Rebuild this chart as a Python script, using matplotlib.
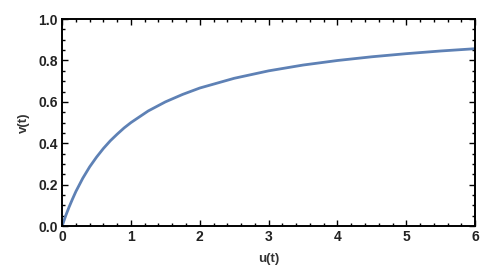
import matplotlib.pyplot as plt
from matplotlib.ticker import MultipleLocator

# values
u_vals = [0.0, 0.025, 0.05, 0.1, 0.15, 0.2, 0.3, 0.4, 0.5, 0.6, 0.7, 0.8, 0.9,
          1.0, 1.25, 1.5, 1.75, 2.0, 2.5, 3.0, 3.5, 4.0, 4.5, 5.0, 5.5, 6.0]
v_vals = [0.0, 0.024, 0.048, 0.091, 0.13, 0.167, 0.231, 0.286, 0.333, 0.375,
          0.412, 0.444, 0.474, 0.5, 0.556, 0.6, 0.636, 0.667, 0.714, 0.75,
          0.778, 0.8, 0.818, 0.833, 0.846, 0.857]

x_label = "u(t)"
y_label = "v(t)"


def main():
    plt.rcParams["font.family"] = ["Liberation Sans", "DejaVu Sans"]

    fig = plt.figure(figsize=(4.97, 2.77), dpi=100)
    ax = fig.add_axes([0.125, 0.184, 0.831, 0.747])

    ax.plot(u_vals, v_vals, color="#5E81B5", linewidth=2.0)

    ax.set_xlim(0, 6)
    ax.set_ylim(0, 1)
    ax.xaxis.set_major_locator(MultipleLocator(1))
    ax.xaxis.set_minor_locator(MultipleLocator(0.2))
    ax.yaxis.set_major_locator(MultipleLocator(0.2))
    ax.yaxis.set_minor_locator(MultipleLocator(0.05))
    ax.yaxis.set_major_formatter(plt.FormatStrFormatter("%.1f"))

    ax.tick_params(which="both", direction="in", top=True, right=True,
                   labeltop=False, labelright=False, width=1.0, color="black")
    ax.tick_params(which="major", length=4, labelsize=10, pad=3)
    ax.tick_params(which="minor", length=2)
    for lbl in ax.get_xticklabels() + ax.get_yticklabels():
        lbl.set_fontweight("bold")
        lbl.set_color("#222222")

    for side in ax.spines.values():
        side.set_linewidth(1.4)

    ax.set_xlabel(x_label, fontsize=9.5, fontweight="bold", color="#333333", labelpad=6)
    ax.set_ylabel(y_label, fontsize=9.5, fontweight="bold", color="#333333", labelpad=6)

    fig.savefig("out.png", dpi=100)


if __name__ == "__main__":
    main()
